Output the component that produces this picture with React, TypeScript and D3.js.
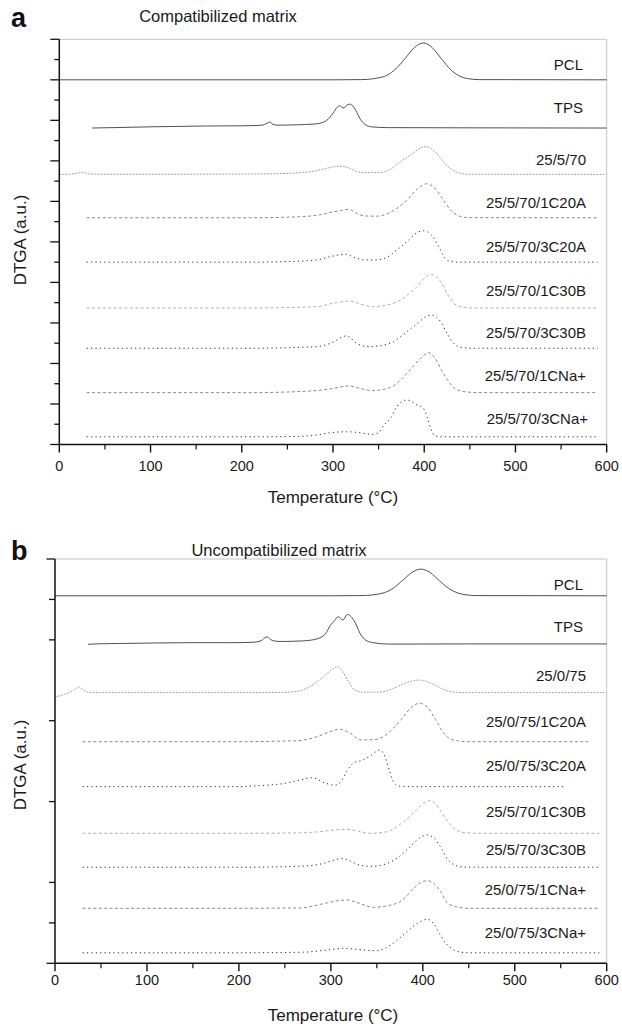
import React from 'react';
import * as d3 from 'd3';

type Pt = [number, number];

// ---------- shared axis data ----------
const tempMajorTicks = [0, 100, 200, 300, 400, 500, 600];
const tempMinorTicks = [50, 150, 250, 350, 450, 550];
const panelTitles = ['Compatibilized matrix', 'Uncompatibilized matrix'];
const panelLetters = ['a', 'b'];
const xTitle = 'Temperature (°C)';
const yTitle = 'DTGA (a.u.)';

// ---------- panel a : compatibilized matrix (temperature °C, DTGA a.u. stacked) ----------
const a_PCL: Pt[] = [[0,18],[300,18],[330,18.01],[340,18.03],[349,18.09],[359,18.22],[369,18.55],[379,19.05],[389,19.58],[394,19.75],[399,19.82],[404,19.75],[409,19.58],[419,19.03],[429,18.5],[439,18.18],[449,18.05],[460,18.01],[600,18]];
const a_TPS: Pt[] = [[36,15.62],[45,15.63],[60,15.64],[80,15.66],[100,15.68],[130,15.7],[160,15.72],[200,15.73],[222,15.76],[228,15.86],[231,15.92],[234,15.8],[240,15.76],[260,15.78],[280,15.82],[290,15.92],[296,16.12],[300,16.35],[304,16.62],[307,16.72],[310,16.64],[312,16.61],[315,16.74],[318,16.8],[322,16.7],[326,16.4],[330,16.05],[335,15.8],[342,15.68],[360,15.64],[450,15.63],[600,15.62]];
const a_257: Pt[] = [[0,13.33],[10,13.34],[20,13.4],[26,13.43],[32,13.36],[45,13.34],[100,13.34],[200,13.35],[240,13.37],[264,13.42],[280,13.5],[290,13.6],[300,13.7],[308,13.74],[319,13.62],[327,13.45],[340,13.42],[352,13.43],[363,13.59],[374,13.96],[385,14.29],[392,14.52],[398,14.68],[402,14.7],[408,14.6],[415,14.3],[422,13.9],[430,13.58],[438,13.4],[450,13.34],[600,13.33]];
const a_1C20A: Pt[] = [[30,11.19],[100,11.19],[209,11.19],[250,11.22],[282,11.31],[300,11.48],[308,11.54],[317,11.61],[326,11.41],[335,11.28],[348,11.27],[359,11.38],[370,11.66],[381,12.07],[392,12.6],[403,12.87],[410,12.72],[421,12.07],[429,11.57],[437,11.3],[448,11.2],[590,11.19]];
const a_3C20A: Pt[] = [[30,9],[150,9],[209,9],[250,9.03],[282,9.11],[300,9.3],[314,9.39],[323,9.24],[334,9.11],[348,9.11],[359,9.24],[370,9.6],[381,10.01],[392,10.45],[399,10.55],[408,10.34],[416,9.76],[423,9.19],[430,9.03],[440,9],[590,9]];
const a_1C30B: Pt[] = [[30,6.74],[150,6.74],[209,6.74],[282,6.8],[300,6.97],[319,7.08],[333,6.89],[344,6.8],[363,6.93],[374,7.13],[377,7.22],[392,7.79],[400,8.2],[407,8.4],[418,8.04],[425,7.46],[433,6.95],[442,6.78],[455,6.74],[590,6.74]];
const a_3C30B: Pt[] = [[30,4.75],[209,4.75],[282,4.83],[297,4.99],[315,5.36],[326,4.99],[339,4.83],[352,4.88],[366,5.07],[381,5.57],[392,5.95],[403,6.34],[408,6.39],[418,6.06],[425,5.49],[432,5],[440,4.8],[455,4.75],[590,4.75]];
const a_1CNa: Pt[] = [[30,2.56],[209,2.56],[282,2.66],[300,2.77],[317,2.89],[330,2.77],[343,2.66],[363,2.82],[374,3.18],[385,3.71],[396,4.25],[405,4.53],[412,4.25],[420,3.59],[427,3.1],[434,2.75],[445,2.6],[460,2.56],[590,2.56]];
const a_3CNa: Pt[] = [[30,0.38],[209,0.38],[264,0.4],[282,0.47],[297,0.58],[315,0.63],[330,0.58],[343,0.5],[350,0.58],[355,0.91],[363,1.29],[370,1.87],[381,2.2],[392,1.95],[399,1.79],[403,1.37],[407,0.8],[412,0.42],[420,0.38],[590,0.38]];
const a_names = ['PCL', 'TPS', '25/5/70', '25/5/70/1C20A', '25/5/70/3C20A', '25/5/70/1C30B', '25/5/70/3C30B', '25/5/70/1CNa+', '25/5/70/3CNa+'];

// ---------- panel b : uncompatibilized matrix ----------
const b_PCL: Pt[] = [[0,18.18],[300,18.18],[330,18.19],[340,18.2],[348,18.24],[358,18.33],[368,18.56],[378,18.94],[388,19.33],[393,19.45],[398,19.5],[403,19.45],[408,19.33],[418,18.93],[428,18.55],[438,18.32],[448,18.22],[460,18.19],[600,18.18]];
const b_TPS: Pt[] = [[36,15.78],[45,15.8],[70,15.82],[100,15.84],[150,15.86],[190,15.86],[215,15.88],[224,15.95],[228,16.1],[231,16.15],[234,16.03],[238,15.95],[245,15.92],[270,15.95],[285,16.05],[294,16.3],[300,16.75],[304,16.95],[308,17.15],[313,16.98],[318,17.26],[322,17.15],[327,16.8],[332,16.3],[338,15.98],[346,15.86],[364,15.79],[450,15.8],[600,15.8]];
const b_2575: Pt[] = [[0,13.17],[10,13.3],[20,13.5],[26,13.67],[30,13.55],[35,13.42],[50,13.39],[190,13.39],[245,13.4],[263,13.45],[277,13.68],[292,14.18],[303,14.59],[307,14.67],[313,14.42],[319,13.93],[326,13.52],[335,13.41],[353,13.41],[368,13.6],[382,13.88],[396,14.01],[408,13.88],[420,13.6],[432,13.43],[445,13.39],[600,13.39]];
const b_1C20A: Pt[] = [[30,10.96],[190,10.96],[263,11.01],[285,11.21],[299,11.46],[310,11.58],[321,11.38],[333,11.05],[346,11.06],[357,11.21],[368,11.63],[379,12.2],[388,12.69],[397,12.86],[406,12.61],[414,12.05],[421,11.5],[428,11.15],[438,11],[450,10.96],[580,10.96]];
const b_3C20A: Pt[] = [[30,8.74],[190,8.74],[245,8.87],[263,9.03],[280,9.18],[293,8.93],[304,8.81],[311,8.98],[317,9.48],[324,9.89],[335,10.06],[344,10.3],[353,10.55],[359,10.22],[364,9.48],[368,8.98],[374,8.77],[385,8.74],[555,8.74]];
const b_1C30B: Pt[] = [[30,6.43],[190,6.43],[263,6.45],[285,6.5],[305,6.6],[317,6.63],[330,6.53],[342,6.43],[360,6.5],[379,7],[393,7.58],[401,7.92],[407,8.05],[413,7.92],[420,7.5],[428,6.95],[436,6.6],[446,6.46],[460,6.43],[592,6.43]];
const b_3C30B: Pt[] = [[30,4.75],[200,4.75],[265,4.8],[290,4.92],[305,5.12],[312,5.18],[320,5.08],[332,4.85],[345,4.8],[360,4.92],[375,5.3],[388,5.85],[398,6.25],[405,6.35],[412,6.2],[420,5.7],[427,5.15],[435,4.85],[445,4.76],[592,4.75]];
const b_1CNa: Pt[] = [[30,2.72],[200,2.72],[266,2.74],[294,2.97],[308,3.1],[318,3.13],[330,2.98],[346,2.77],[362,2.85],[378,3.13],[390,3.71],[398,4],[405,4.09],[412,3.95],[420,3.5],[427,2.97],[439,2.77],[450,2.72],[592,2.72]];
const b_3CNa: Pt[] = [[30,0.52],[200,0.52],[270,0.55],[300,0.68],[314,0.74],[330,0.68],[350,0.62],[365,0.91],[375,1.25],[385,1.65],[395,2],[405,2.18],[412,1.95],[419,1.4],[425,1],[431,0.74],[439,0.57],[450,0.52],[592,0.52]];
const b_names = ['PCL', 'TPS', '25/0/75', '25/0/75/1C20A', '25/0/75/3C20A', '25/5/70/1C30B', '25/5/70/3C30B', '25/0/75/1CNa+', '25/0/75/3CNa+'];

const yTicksA = d3.range(0, 21, 1);
const yTicksB = [0, 2, 4, 8, 12, 16, 18, 20];

// ---------- styles / layout (kept apart from the data) ----------
type Sty = { stroke: string; dash: string | null; w: number };
const SOLID: Sty = { stroke: '#3c3c3c', dash: null, w: 0.9 };
const FINE: Sty = { stroke: '#9a9a9a', dash: '2,1.2', w: 0.9 };
const DASH: Sty = { stroke: '#7c7c7c', dash: '3,2.4', w: 0.9 };
const LDASH: Sty = { stroke: '#a6a6a6', dash: '3,2.4', w: 0.9 };
const DOT: Sty = { stroke: '#2a2a2a', dash: '1.2,3.2', w: 1 };

const panels = [
  {
    x0: 59.3, x1: 606.7, yTop: 39.3, yBot: 444.5,
    series: [a_PCL, a_TPS, a_257, a_1C20A, a_3C20A, a_1C30B, a_3C30B, a_1CNa, a_3CNa],
    names: a_names,
    styles: [SOLID, SOLID, FINE, DASH, DOT, LDASH, DOT, DASH, DOT],
    labelY: [64.5, 108, 160, 203, 247, 291, 333, 376, 419],
    labelX: [583, 583, 586, 586, 586, 586, 586, 586, 588],
    yTicks: yTicksA,
    titleX: 218, titleY: 22, letterY: 27,
    xLabelY: 471, xTitleY: 503, yTitleY: 240,
  },
  {
    x0: 55, x1: 606.7, yTop: 559, yBot: 963.3,
    series: [b_PCL, b_TPS, b_2575, b_1C20A, b_3C20A, b_1C30B, b_3C30B, b_1CNa, b_3CNa],
    names: b_names,
    styles: [SOLID, SOLID, FINE, DASH, DOT, LDASH, DOT, DASH, DOT],
    labelY: [584.5, 627, 676, 722, 766, 812, 850, 890, 933],
    labelX: [583, 583, 586, 586, 586, 586, 586, 586, 586],
    yTicks: yTicksB,
    titleX: 279, titleY: 556, letterY: 560,
    xLabelY: 985, xTitleY: 1021, yTitleY: 765,
  },
];

const FONT = '"Liberation Sans", Arial, Helvetica, sans-serif';

function Panel({ p, idx }: { p: (typeof panels)[number]; idx: number }) {
  const x = d3.scaleLinear().domain([0, 600]).range([p.x0, p.x1]);
  const y = d3.scaleLinear().domain([0, 20]).range([p.yBot, p.yTop]);
  const line = d3
    .line<Pt>()
    .x((d) => x(d[0]))
    .y((d) => y(d[1]))
    .curve(d3.curveMonotoneX);
  const isA = idx === 0;
  return (
    <g>
      {/* frame: top & right light */}
      <line x1={p.x0} x2={p.x1} y1={p.yTop} y2={p.yTop} stroke="#c4c4c4" strokeWidth={1} />
      <line x1={p.x1} x2={p.x1} y1={p.yTop} y2={p.yBot} stroke="#c4c4c4" strokeWidth={1} />
      {/* curves */}
      {p.series.map((s, i) => (
        <path
          key={i}
          d={line(s) || ''}
          fill="none"
          stroke={p.styles[i].stroke}
          strokeWidth={p.styles[i].w}
          strokeDasharray={p.styles[i].dash || undefined}
        />
      ))}
      {/* axes */}
      <line x1={p.x0} x2={p.x0} y1={p.yTop} y2={p.yBot} stroke="#111" strokeWidth={1.5} />
      <line x1={p.x0} x2={p.x1} y1={p.yBot} y2={p.yBot} stroke="#111" strokeWidth={1.5} />
      {p.yTicks.map((t) => {
        const major = isA ? t % 2 === 0 : t === 20 || t === 0;
        const len = isA ? (major ? 9 : 5) : major ? 8.5 : 6;
        return (
          <line key={t} x1={p.x0 - len} x2={p.x0} y1={y(t)} y2={y(t)} stroke="#111" strokeWidth={1.3} />
        );
      })}
      {tempMajorTicks.map((t) => (
        <g key={t}>
          <line x1={x(t)} x2={x(t)} y1={p.yBot} y2={p.yBot + 8} stroke="#111" strokeWidth={1.4} />
          <text x={x(t)} y={p.xLabelY} textAnchor="middle" fontSize={14.5} fontFamily={FONT} fill="#1a1a1a">
            {t}
          </text>
        </g>
      ))}
      {tempMinorTicks.map((t) => (
        <line key={t} x1={x(t)} x2={x(t)} y1={p.yBot} y2={p.yBot + 5} stroke="#111" strokeWidth={1.2} />
      ))}
      {/* series labels */}
      {p.names.map((n, i) => (
        <text
          key={n + i}
          x={p.labelX[i]}
          y={p.labelY[i] + 5.2}
          textAnchor="end"
          fontSize={15}
          fontFamily={FONT}
          fill="#1a1a1a"
        >
          {n}
        </text>
      ))}
      {/* titles */}
      <text x={p.titleX} y={p.titleY} textAnchor="middle" fontSize={16.5} fontFamily={FONT} fill="#1a1a1a">
        {panelTitles[idx]}
      </text>
      <text x={11} y={p.letterY} fontSize={27} fontWeight="bold" fontFamily={FONT} fill="#111">
        {panelLetters[idx]}
      </text>
      <text x={333} y={p.xTitleY} textAnchor="middle" fontSize={17} fontFamily={FONT} fill="#1a1a1a">
        {xTitle}
      </text>
      <text
        transform={`translate(${26},${p.yTitleY}) rotate(-90)`}
        textAnchor="middle"
        fontSize={17}
        fontFamily={FONT}
        fill="#1a1a1a"
      >
        {yTitle}
      </text>
    </g>
  );
}

export default function App() {
  return (
    <svg
      width={622}
      height={1029}
      viewBox="0 0 622 1029"
      style={{ position: 'absolute', left: 0, top: 0, display: 'block', background: '#fff' }}
    >
      <rect width={622} height={1029} fill="#fff" />
      {panels.map((p, i) => (
        <Panel key={i} p={p} idx={i} />
      ))}
    </svg>
  );
}
